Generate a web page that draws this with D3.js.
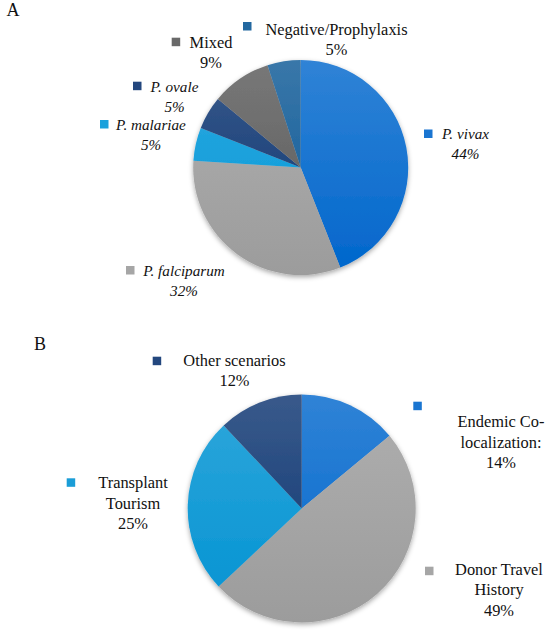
<!DOCTYPE html>
<html>
<head>
<meta charset="utf-8">
<script src="https://cdnjs.cloudflare.com/ajax/libs/d3/7.8.5/d3.min.js"></script>
<style>
  body { margin: 0; background: #fff; }
  text { font-family: "Liberation Serif", "Times New Roman", serif; fill: #111; }
</style>
</head>
<body>
<div id="chart"></div>
<script>
// Panel A: malaria species
const categoriesA = ["P. vivax", "P. falciparum", "P. malariae", "P. ovale", "Mixed", "Negative/Prophylaxis"];
const valuesA = [44, 32, 5, 5, 9, 5];
const italicA = [true, true, true, true, false, false];

// Panel B: transmission scenario
const categoriesB = ["Endemic Co-localization:", "Donor Travel History", "Transplant Tourism", "Other scenarios"];
const valuesB = [14, 49, 25, 12];

// Slice colours (bottom of the gradient)
const colorsA = ["#0066cc", "#9c9c9c", "#0096d8", "#0a3370", "#585858", "#0b5795"];
const colorsB = ["#0066cc", "#9c9c9c", "#0092d2", "#0a3370"];

// Label layout: text centre, first baseline, marker corner, wrap width
const labelsA = [
    { cx: 465.5, y: 139, mx: 424, my: 129.5 },
    { cx: 184, y: 276, mx: 126, my: 266 },
    { cx: 151, y: 130, mx: 100, my: 120 },
    { cx: 174.5, y: 91.7, mx: 133, my: 81.7 },
    { cx: 211, y: 47.7, mx: 171.7, my: 37.7 },
    { cx: 336.5, y: 35, mx: 243, my: 22 }
];
const labelsB = [
    { cx: 501, y: 427.3, mx: 413.3, my: 401.7, wrap: 95 },
    { cx: 499, y: 575, mx: 425, my: 566.7, wrap: 95 },
    { cx: 133, y: 488.3, mx: 66.7, my: 478.3, wrap: 95 },
    { cx: 234.5, y: 366, mx: 152.7, my: 356.7, wrap: 200 }
];

const W = 550, H = 633;
const svg = d3.select("#chart").append("svg")
    .attr("width", W)
    .attr("height", H);

svg.append("rect").attr("width", W).attr("height", H).attr("fill", "#fff");

const defs = svg.append("defs");

// soft shadow round the pie
const shadow = defs.append("filter")
    .attr("id", "pieShadow")
    .attr("x", "-20%").attr("y", "-20%")
    .attr("width", "140%").attr("height", "140%");
shadow.append("feDropShadow")
    .attr("dx", 0).attr("dy", 2)
    .attr("stdDeviation", 2.5)
    .attr("flood-color", "#000")
    .attr("flood-opacity", 0.35);

const fontSize = 16.4, italicSize = 15.2, lineH = 20.4;

function drawPie(id, cx, cy, r, values, colors) {
    const g = svg.append("g")
        .attr("transform", `translate(${cx},${cy})`)
        .attr("filter", "url(#pieShadow)");

    // vertical gradient per slice, lighter at the top
    colors.forEach((c, i) => {
        const grad = defs.append("linearGradient")
            .attr("id", `${id}-g${i}`)
            .attr("gradientUnits", "userSpaceOnUse")
            .attr("x1", 0).attr("y1", -r)
            .attr("x2", 0).attr("y2", r);
        grad.append("stop").attr("offset", 0).attr("stop-color", d3.interpolateRgb(c, "#fff")(0.19));
        grad.append("stop").attr("offset", 1).attr("stop-color", c);
    });

    const pie = d3.pie().sort(null).value(d => d);
    const arc = d3.arc().innerRadius(0).outerRadius(r);

    g.selectAll("path")
        .data(pie(values))
        .join("path")
        .attr("d", arc)
        .attr("fill", (d, i) => `url(#${id}-g${i})`);
}

// Break a label into lines no wider than maxW (on spaces and after hyphens)
function wrapLines(str, maxW, italic) {
    const probe = svg.append("text")
        .attr("font-size", italic ? italicSize : fontSize)
        .attr("font-style", italic ? "italic" : "normal");
    const words = str.split(/(?<=-)|\s+/);
    const lines = [];
    let cur = "";
    words.forEach(w => {
        const trial = cur === "" ? w : (cur.endsWith("-") ? cur + w : cur + " " + w);
        probe.text(trial);
        if (cur !== "" && probe.node().getComputedTextLength() > maxW) {
            lines.push(cur);
            cur = w;
        } else {
            cur = trial;
        }
    });
    if (cur) lines.push(cur);
    probe.remove();
    return lines;
}

function drawLabels(names, values, colors, layout, italics) {
    names.forEach((name, i) => {
        const L = layout[i];
        const italic = italics ? italics[i] : false;
        const lines = L.wrap ? wrapLines(name, L.wrap, italic) : [name];
        lines.push(values[i] + "%");

        // legend marker
        svg.append("rect")
            .attr("x", L.mx).attr("y", L.my)
            .attr("width", 8.5).attr("height", 8.5)
            .attr("fill", d3.interpolateRgb(colors[i], "#fff")(0.1));

        const t = svg.append("text")
            .attr("text-anchor", "middle")
            .attr("font-size", italic ? italicSize : fontSize)
            .attr("font-style", italic ? "italic" : "normal");
        lines.forEach((ln, k) => {
            t.append("tspan")
                .attr("x", L.cx)
                .attr("y", L.y + k * lineH)
                .text(ln);
        });
    });
}

// Panel A
drawPie("pa", 300.7, 167.5, 107.5, valuesA, colorsA);
drawLabels(categoriesA, valuesA, colorsA, labelsA, italicA);
svg.append("text").attr("x", 6.5).attr("y", 15.7).attr("font-size", 18).text("A");

// Panel B
drawPie("pb", 301.7, 508.5, 114, valuesB, colorsB);
drawLabels(categoriesB, valuesB, colorsB, labelsB, null);
svg.append("text").attr("x", 34).attr("y", 350).attr("font-size", 18).text("B");
</script>
</body>
</html>
